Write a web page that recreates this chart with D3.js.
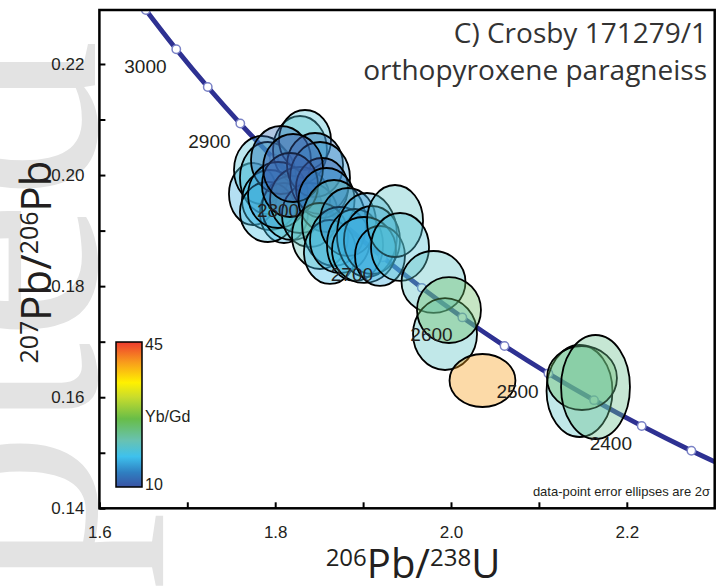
<!DOCTYPE html>
<html>
<head>
<meta charset="utf-8">
<script src="https://cdn.jsdelivr.net/npm/d3@7"></script>
<style>
  html, body { margin: 0; padding: 0; background: #fff; }
  svg { display: block; }
</style>
</head>
<body>
<svg id="chart" width="717" height="587"></svg>
<script>
// Concordia reference ages (Ma) and their 238U/206Pb and 207Pb/206Pb ratios
const concordiaAge = [2300, 2350, 2400, 2450, 2500, 2550, 2600, 2650, 2700, 2750, 2800, 2850, 2900, 2950, 3000, 3050];
const concordiaX = [2.33246, 2.27347, 2.21696, 2.16274, 2.11081, 2.06088, 2.01291, 1.96677, 1.92236, 1.87959, 1.83837, 1.79862, 1.76030, 1.72326, 1.68745, 1.65286];
const concordiaY = [0.14603, 0.15036, 0.15483, 0.15947, 0.16426, 0.16923, 0.17437, 0.17969, 0.18520, 0.19091, 0.19682, 0.20294, 0.20928, 0.21586, 0.22266, 0.22971];
const labelledAges = [2400, 2500, 2600, 2700, 2800, 2900, 3000];

// Zircon spot analyses: ratios, 2-sigma errors and Yb/Gd (in plotting order)
const spotX    = [1.7747, 1.7850, 1.7918, 1.8282, 1.8339, 1.7941, 1.8100, 1.7918, 1.8191, 1.8066, 1.8032, 1.8282, 1.8396, 1.8453, 1.8510, 1.8532, 1.8168, 1.8203, 1.8584, 1.8510, 1.8669, 1.8623, 1.8737, 1.8828, 1.8908, 1.9044, 1.9101, 1.9010, 1.9192, 1.9363, 1.9420, 1.9801, 1.9932, 1.9977, 2.0358, 2.1462, 2.1490, 2.1644];
const spotY    = [0.19659, 0.20091, 0.19947, 0.20451, 0.20631, 0.19551, 0.19317, 0.19335, 0.19407, 0.20271, 0.19641, 0.19551, 0.19281, 0.20181, 0.19947, 0.19767, 0.19821, 0.20127, 0.19551, 0.18903, 0.19137, 0.18615, 0.18831, 0.19155, 0.18741, 0.18921, 0.18831, 0.18651, 0.18543, 0.19173, 0.18705, 0.18075, 0.17138, 0.17570, 0.16301, 0.16112, 0.16346, 0.16184];
const spotErrX = [0.0273, 0.0319, 0.0319, 0.0307, 0.0296, 0.0319, 0.0273, 0.0319, 0.0341, 0.0341, 0.0341, 0.0341, 0.0319, 0.0319, 0.0341, 0.0296, 0.0319, 0.0341, 0.0319, 0.0319, 0.0364, 0.0296, 0.0341, 0.0319, 0.0319, 0.0341, 0.0319, 0.0364, 0.0284, 0.0319, 0.0330, 0.0364, 0.0364, 0.0364, 0.0375, 0.0375, 0.0398, 0.0392];
const spotErrY = [0.00558, 0.00612, 0.00648, 0.00612, 0.00540, 0.00540, 0.00540, 0.00540, 0.00576, 0.00612, 0.00594, 0.00594, 0.00576, 0.00576, 0.00648, 0.00540, 0.00576, 0.00612, 0.00576, 0.00594, 0.00774, 0.00576, 0.00594, 0.00612, 0.00648, 0.00756, 0.00612, 0.00594, 0.00540, 0.00648, 0.00612, 0.00558, 0.00648, 0.00594, 0.00477, 0.00828, 0.00576, 0.00936];
const spotYbGd = [16, 19, 19, 20, 19, 17, 17, 18, 20, 12, 15, 21, 19, 12, 15, 11, 10.5, 10.5, 15, 21, 21, 17, 16, 14, 19, 16, 15, 17, 16, 20, 19, 20, 20, 25, 40, 20, 25, 23];

// Axis ticks
const xTicks = [1.6, 1.7, 1.8, 1.9, 2.0, 2.1, 2.2];
const xTickLabels = ["1.6", "", "1.8", "", "2.0", "", "2.2"];
const yTicks = [0.14, 0.15, 0.16, 0.17, 0.18, 0.19, 0.20, 0.21, 0.22];
const yTickLabels = ["0.14", "", "0.16", "", "0.18", "", "0.20", "", "0.22"];

// Yb/Gd colour ramp
const rampDomain = [10, 13.5, 17.35, 21.2, 26.45, 31.7, 35.2, 40.1, 45];
const rampColors = ["#3a53a4", "#2f7fc1", "#3ec1ed", "#68c2b2", "#68bd48", "#c9dc2c", "#fff100", "#f89c1c", "#ee3b2f"];
const colorbarLimits = [10, 45];

const W = 717, H = 587;
const margin = { left: 99.4, right: 2.3, top: 10, bottom: 78.7 };
const svg = d3.select("#chart");

const x = d3.scaleLinear().domain([1.6, 2.3]).range([margin.left, W - margin.right]);
const y = d3.scaleLinear().domain([0.14, 0.14 + (H - margin.bottom - margin.top) / 5554]).range([H - margin.bottom, margin.top]);
const color = d3.scaleLinear().domain(rampDomain).range(rampColors);

const sans = "'Liberation Sans', Arial, sans-serif";
const humanist = "'Open Sans', 'Noto Sans', sans-serif";

// faint vertical watermark at the left edge
svg.append("text")
  .attr("transform", "translate(95,40) rotate(-90)")
  .attr("text-anchor", "end")
  .attr("font-family", "'Liberation Serif', 'DejaVu Serif', serif")
  .attr("font-size", 320)
  .attr("fill", "#e3e3e3")
  .text("Accepted");

// plot area clip
svg.append("clipPath").attr("id", "plotClip")
  .append("rect")
  .attr("x", x.range()[0]).attr("y", y.range()[1])
  .attr("width", x.range()[1] - x.range()[0])
  .attr("height", y.range()[0] - y.range()[1]);

const plot = svg.append("g").attr("clip-path", "url(#plotClip)");

// concordia curve
const conc = concordiaAge.map((a, i) => ({ age: a, x: concordiaX[i], y: concordiaY[i] }));
plot.append("path")
  .datum(conc)
  .attr("fill", "none")
  .attr("stroke", "#2e3192")
  .attr("stroke-width", 4.8)
  .attr("d", d3.line().x(d => x(d.x)).y(d => y(d.y)).curve(d3.curveCatmullRom));

const inside = conc.filter(d => d.x >= 1.6 && d.x <= 2.3);
plot.selectAll("circle.age").data(inside).enter().append("circle")
  .attr("class", "age")
  .attr("cx", d => x(d.x)).attr("cy", d => y(d.y)).attr("r", 4.2)
  .attr("fill", "#fff").attr("stroke", "#7a82c6").attr("stroke-width", 1.5);

// age labels (below and left of each 100 Ma tick)
svg.selectAll("text.age").data(inside.filter(d => labelledAges.includes(d.age))).enter().append("text")
  .attr("class", "age")
  .attr("x", d => x(d.x) - 52).attr("y", d => y(d.y) + 24)
  .attr("font-family", sans).attr("font-size", 19).attr("fill", "#231f20")
  .text(d => d.age);

// error ellipses
const spots = spotX.map((v, i) => ({ x: v, y: spotY[i], ex: spotErrX[i], ey: spotErrY[i], v: spotYbGd[i] }));
plot.selectAll("ellipse").data(spots).enter().append("ellipse")
  .attr("cx", d => x(d.x)).attr("cy", d => y(d.y))
  .attr("rx", d => x(d.x + d.ex) - x(d.x))
  .attr("ry", d => y(d.y) - y(d.y + d.ey))
  .attr("fill", d => color(d.v)).attr("fill-opacity", 0.38)
  .attr("stroke", "#000").attr("stroke-width", 1.8);

// frame and ticks
const x0 = x.range()[0], x1 = x.range()[1], y0 = y.range()[0], y1 = y.range()[1];
svg.append("rect").attr("x", x0).attr("y", y1).attr("width", x1 - x0).attr("height", y0 - y1)
  .attr("fill", "none").attr("stroke", "#000").attr("stroke-width", 2.5);

const xAxis = svg.append("g").attr("transform", `translate(0,${y0})`)
  .call(d3.axisBottom(x).tickValues(xTicks).tickSizeInner(-6).tickSizeOuter(0).tickPadding(14)
    .tickFormat((d, i) => xTickLabels[i]));
xAxis.select(".domain").remove();
xAxis.selectAll("line").attr("stroke-width", 2);
xAxis.selectAll("text").attr("font-family", sans).attr("font-size", 17).attr("fill", "#231f20").attr("dy", "0.9em");

const yAxis = svg.append("g").attr("transform", `translate(${x0},0)`)
  .call(d3.axisLeft(y).tickValues(yTicks).tickSizeInner(-6).tickSizeOuter(0).tickPadding(15)
    .tickFormat((d, i) => yTickLabels[i]));
yAxis.select(".domain").remove();
yAxis.selectAll("line").attr("stroke-width", 2);
yAxis.selectAll("text").attr("font-family", sans).attr("font-size", 17).attr("fill", "#231f20");

// axis titles
const xt = svg.append("text").attr("x", 413).attr("y", 578).attr("text-anchor", "middle")
  .attr("font-family", humanist).attr("font-size", 40).attr("fill", "#231f20");
xt.append("tspan").attr("font-size", 24).attr("dy", -12).text("206");
xt.append("tspan").attr("dy", 12).text("Pb/");
xt.append("tspan").attr("font-size", 24).attr("dy", -12).text("238");
xt.append("tspan").attr("dy", 12).text("U");

const yt = svg.append("text").attr("transform", "translate(51,262) rotate(-90)").attr("text-anchor", "middle")
  .attr("font-family", humanist).attr("font-size", 42).attr("fill", "#231f20");
yt.append("tspan").attr("font-size", 25).attr("dy", -13).text("207");
yt.append("tspan").attr("dy", 13).text("Pb/");
yt.append("tspan").attr("font-size", 25).attr("dy", -13).text("206");
yt.append("tspan").attr("dy", 13).text("Pb");

// sample title
svg.append("text").attr("x", 707).attr("y", 43).attr("text-anchor", "end")
  .attr("font-family", humanist).attr("font-size", 28).attr("fill", "#333")
  .text("C) Crosby 171279/1");
svg.append("text").attr("x", 707).attr("y", 80).attr("text-anchor", "end")
  .attr("font-family", humanist).attr("font-size", 28).attr("fill", "#333")
  .text("orthopyroxene paragneiss");

// error note
svg.append("text").attr("x", 710).attr("y", 496).attr("text-anchor", "end")
  .attr("font-family", sans).attr("font-size", 13).attr("fill", "#231f20")
  .text("data-point error ellipses are 2σ");

// Yb/Gd colour bar
const cb = d3.scaleLinear().domain(colorbarLimits).range([487, 342]);
const grad = svg.append("defs").append("linearGradient").attr("id", "ybgd")
  .attr("x1", 0).attr("y1", 1).attr("x2", 0).attr("y2", 0);
grad.selectAll("stop").data(rampDomain).enter().append("stop")
  .attr("offset", d => (d - colorbarLimits[0]) / (colorbarLimits[1] - colorbarLimits[0]))
  .attr("stop-color", d => color(d));
svg.append("rect").attr("x", 116).attr("y", cb(45)).attr("width", 26).attr("height", cb(10) - cb(45))
  .attr("fill", "url(#ybgd)").attr("stroke", "#000").attr("stroke-width", 1.5);
svg.append("text").attr("x", 145).attr("y", cb(45) + 8).attr("font-family", sans).attr("font-size", 16)
  .attr("fill", "#231f20").text(colorbarLimits[1]);
svg.append("text").attr("x", 145).attr("y", cb(10) + 3).attr("font-family", sans).attr("font-size", 16)
  .attr("fill", "#231f20").text(colorbarLimits[0]);
svg.append("text").attr("x", 145).attr("y", 422).attr("font-family", sans).attr("font-size", 16)
  .attr("fill", "#231f20").text("Yb/Gd");
</script>
</body>
</html>
